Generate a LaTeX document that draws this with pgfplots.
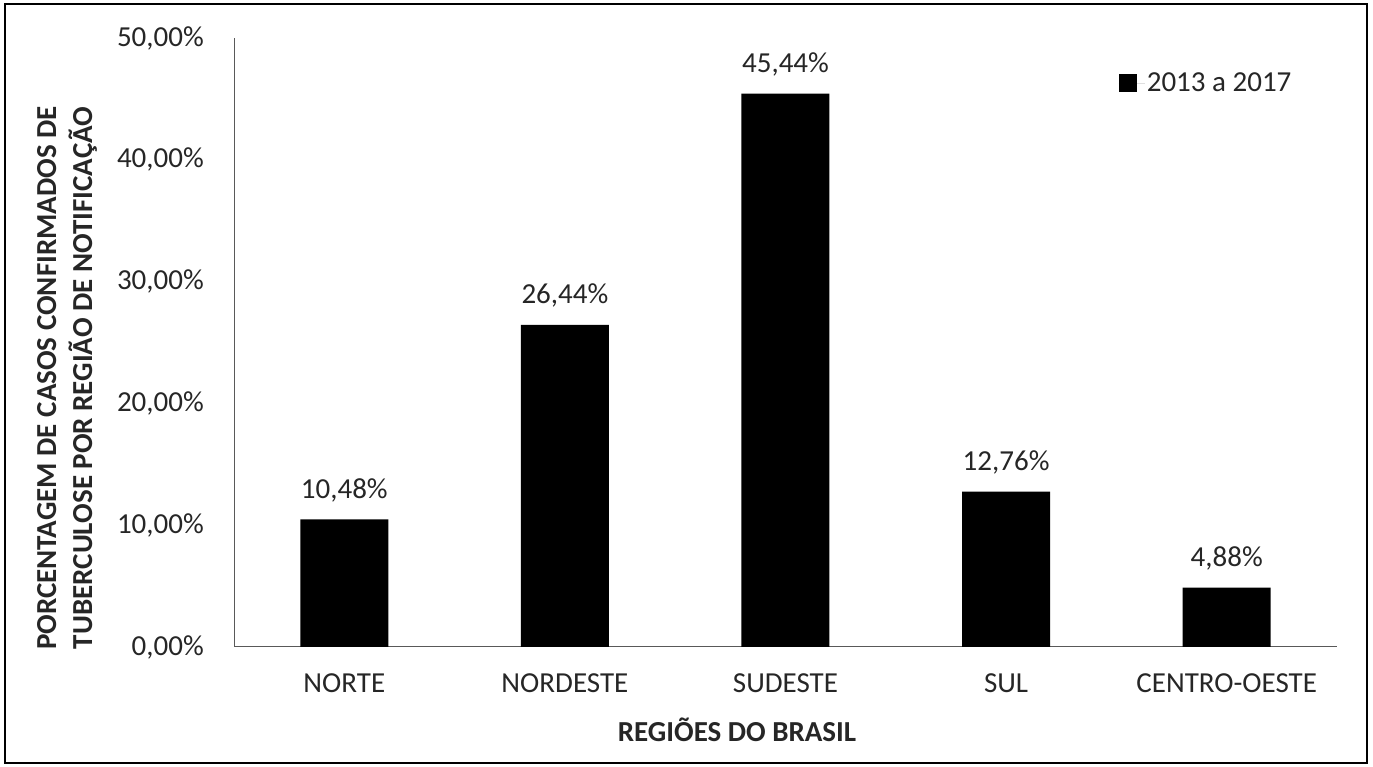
\documentclass[border=0pt]{standalone}
\usepackage{fontspec}
\setmainfont{Carlito}
\usepackage{pgfplots}
\pgfplotsset{compat=1.18}
\begin{document}
\begin{tikzpicture}[x=1pt,y=1pt]
\useasboundingbox (0,0) rectangle (1373,767);
\draw[black, line width=1.2pt] (5,4) rectangle (1367,763);
\begin{axis}[
  at={(234pt,120pt)}, anchor=south west,
  scale only axis, width=1103pt, height=609pt,
  xmin=-0.5, xmax=4.5, ymin=0, ymax=50,
  axis x line*=bottom, axis y line*=left,
  axis line style={black!65, line width=1pt},
  major tick length=0pt,
  xtick={0,1,2,3,4},
  xticklabels={NORTE,NORDESTE,SUDESTE,SUL,CENTRO-OESTE},
  ytick={0,10,20,30,40,50},
  yticklabels={{0,00\%},{10,00\%},{20,00\%},{30,00\%},{40,00\%},{50,00\%}},
  tick label style={font=\fontsize{29}{34}\selectfont, text=black!85},
  yticklabel style={inner sep=0pt, anchor=east, xshift=-30pt},
  xticklabel style={inner sep=0pt, anchor=base, yshift=-46pt},
  ybar, bar width=88pt,
  point meta=explicit symbolic,
  nodes near coords={\pgfplotspointmeta},
  nodes near coords style={font=\fontsize{29}{34}\selectfont, text=black!85, anchor=base, inner sep=0pt, yshift=21pt},
  legend style={at={(0.802,0.926)}, anchor=west, draw=none, fill=none, font=\fontsize{29}{34}\selectfont, text=black!85, inner sep=0pt},
  legend image code/.code={\fill[black] (0pt,-9pt) rectangle (18pt,9pt); \path (0pt,0pt) -- (26pt,0pt);},
  clip=false,
]
\addplot[fill=black, draw=none] coordinates {
  (0,10.48) [10,48\%]
  (1,26.44) [26,44\%]
  (2,45.44) [45,44\%]
  (3,12.76) [12,76\%]
  (4,4.88) [4,88\%]
};
\addlegendentry{2013 a 2017}
\end{axis}
\node[rotate=90, align=center, font=\bfseries\fontsize{29}{36}\selectfont, text=black!85] at (67,389) {PORCENTAGEM DE CASOS CONFIRMADOS DE\\TUBERCULOSE POR REGIÃO DE NOTIFICAÇÃO};
\node[anchor=base, font=\bfseries\fontsize{29}{35}\selectfont, text=black!85] at (737,25) {REGIÕES DO BRASIL};
\end{tikzpicture}
\end{document}
